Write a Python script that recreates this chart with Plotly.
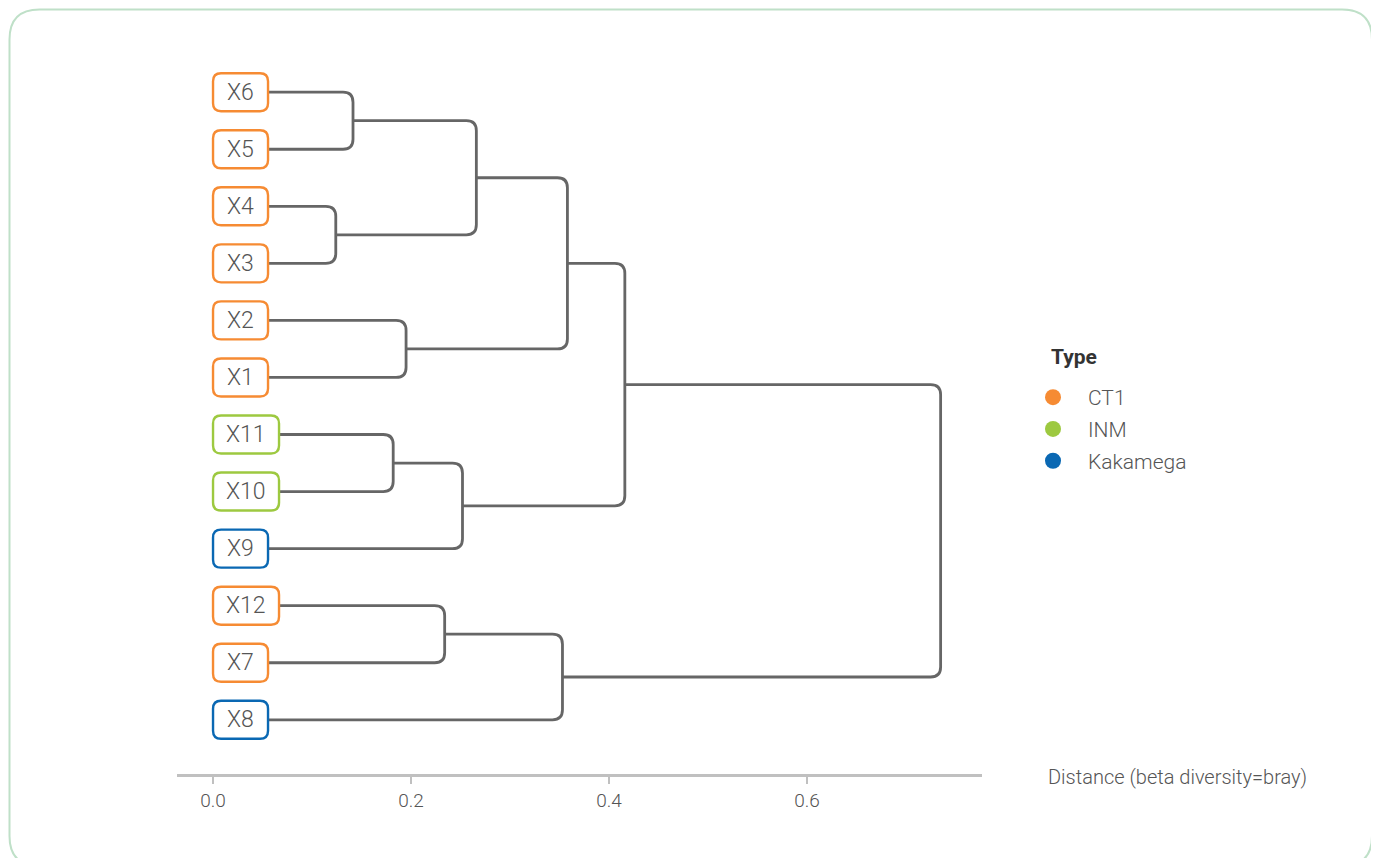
import plotly.graph_objects as go

# ---------------- data ----------------
leaf_labels = ["X6", "X5", "X4", "X3", "X2", "X1", "X11", "X10", "X9", "X12", "X7", "X8"]
leaf_types = ["CT1", "CT1", "CT1", "CT1", "CT1", "CT1", "INM", "INM", "Kakamega", "CT1", "CT1", "Kakamega"]
# merges (node ids: leaves 0..11, merges 12..)
merge_a = [0, 2, 4, 6, 9, 12, 15, 16, 17, 20, 21]
merge_b = [1, 3, 5, 7, 10, 13, 8, 11, 14, 18, 19]
merge_height = [0.1414, 0.124, 0.195, 0.182, 0.234, 0.266, 0.252, 0.353, 0.358, 0.416, 0.735]
type_names = ["CT1", "INM", "Kakamega"]
type_colors = ["#F68B33", "#9DC940", "#0A68B3"]
tick_vals = [0.0, 0.2, 0.4, 0.6]
tick_text = ["0.0", "0.2", "0.4", "0.6"]
axis_title = "Distance (beta diversity=bray)"
legend_title = "Type"

# ---------------- layout constants (page pixels; figure sits 8px in) ----------------
OFF = 8
W, H = 1371, 850
PL, PR, PT, PB = 177, 982, 20, 774          # plot area in page pixels
ML, MR, MT, MB = PL - OFF, W - (PR - OFF), PT - OFF, H - (PB - OFF)
plot_w = PR - PL
plot_h = PB - PT
x_range = [-0.0364, 0.7768]
y_top, y_bot = -1.265, 11.95
px_x = plot_w / (x_range[1] - x_range[0])
px_y = plot_h / (y_bot - y_top)

FONT = "Roboto, Open Sans, sans-serif"
LINE_COLOR = "#666666"
TEXT_COLOR = "#555555"
color_of = dict(zip(type_names, type_colors))


def paper_x(px):
    return (px - PL) / plot_w


def paper_y(py):
    return (PB - py) / plot_h


fig = go.Figure()

# legend entries
for name, col in zip(type_names, type_colors):
    fig.add_trace(go.Scatter(x=[None], y=[None], mode="markers", name=name, legendgroup=name,
                             marker=dict(size=17, color=col)))

# dendrogram branches
node_x = [0.0] * len(leaf_labels)
node_y = [float(i) for i in range(len(leaf_labels))]
shapes = []
rx = 10 / px_x
ry = 10 / px_y
for a, b, h in zip(merge_a, merge_b, merge_height):
    xa, ya, xb, yb = node_x[a], node_y[a], node_x[b], node_y[b]
    if ya > yb:
        xa, ya, xb, yb = xb, yb, xa, ya
    path = (f"M {xa},{ya} L {h - rx},{ya} Q {h},{ya} {h},{ya + ry} "
            f"L {h},{yb - ry} Q {h},{yb} {h - rx},{yb} L {xb},{yb}")
    shapes.append(dict(type="path", xref="x", yref="y", path=path,
                       line=dict(color=LINE_COLOR, width=2.8)))
    node_x.append(h)
    node_y.append((ya + yb) / 2)

# label boxes
annotations = []
for i, (lab, typ) in enumerate(zip(leaf_labels, leaf_types)):
    w = 55 if len(lab) == 2 else 66
    hh, r = 19, 8
    p = (f"M {r},{-hh} L {w - r},{-hh} Q {w},{-hh} {w},{-hh + r} L {w},{hh - r} "
         f"Q {w},{hh} {w - r},{hh} L {r},{hh} Q 0,{hh} 0,{hh - r} L 0,{-hh + r} Q 0,{-hh} {r},{-hh} Z")
    shapes.append(dict(type="path", xref="x", yref="y", xsizemode="pixel", ysizemode="pixel",
                       xanchor=0, yanchor=i, path=p, fillcolor="white",
                       line=dict(color=color_of[typ], width=2.4)))
    annotations.append(dict(x=0, y=i, xref="x", yref="y", text=lab, showarrow=False,
                            xanchor="center", yanchor="middle", xshift=w / 2 - 0.5,
                            font=dict(family=FONT, size=23, weight=300, color=TEXT_COLOR)))

# axis title
annotations.append(dict(x=paper_x(1046), y=0, xref="paper", yref="paper",
                        text=axis_title, showarrow=False, xanchor="left", yanchor="middle",
                        yshift=-3, font=dict(family=FONT, size=20, weight=300, color=TEXT_COLOR)))
# legend title
annotations.append(dict(x=paper_x(1049), y=paper_y(357), xref="paper", yref="paper",
                        text=legend_title, showarrow=False, xanchor="left", yanchor="middle",
                        font=dict(family=FONT, size=21, weight="bold", color="#333333")))

# outer rounded border in paper coords (kept inside the figure)
L_, R_, T_, B_ = OFF + 1.5, 1372, OFF + 1.5, 866
rr = 30
bx0, bx1 = paper_x(L_), paper_x(R_)
by0, by1 = paper_y(B_), paper_y(T_)
rxp, ryp = rr / plot_w, rr / plot_h
border = (f"M {bx0 + rxp},{by1} L {bx1 - rxp},{by1} Q {bx1},{by1} {bx1},{by1 - ryp} "
          f"L {bx1},{by0 + ryp} Q {bx1},{by0} {bx1 - rxp},{by0} L {bx0 + rxp},{by0} "
          f"Q {bx0},{by0} {bx0},{by0 + ryp} L {bx0},{by1 - ryp} Q {bx0},{by1} {bx0 + rxp},{by1} Z")
shapes.append(dict(type="path", xref="paper", yref="paper", path=border,
                   line=dict(color="#BFE0C8", width=2)))

fig.update_layout(
    width=W, height=H,
    margin=dict(l=ML, r=MR, t=MT, b=MB),
    paper_bgcolor="white", plot_bgcolor="white",
    shapes=shapes, annotations=annotations,
    xaxis=dict(range=x_range, showgrid=False, zeroline=False, showline=True,
               linecolor="#C0C0C0", linewidth=3, ticks="outside", ticklen=7,
               tickwidth=2, tickcolor="#C0C0C0", tickvals=tick_vals, ticktext=tick_text,
               tickfont=dict(family=FONT, size=19, weight=300, color=TEXT_COLOR)),
    yaxis=dict(range=[y_bot, y_top], visible=False),
    legend=dict(x=paper_x(1018), y=paper_y(377), xanchor="left", yanchor="top",
                itemwidth=60,
                font=dict(family=FONT, size=21, weight=300, color=TEXT_COLOR), tracegroupgap=1.5),
    showlegend=True,
)

fig.write_html("out.html")
